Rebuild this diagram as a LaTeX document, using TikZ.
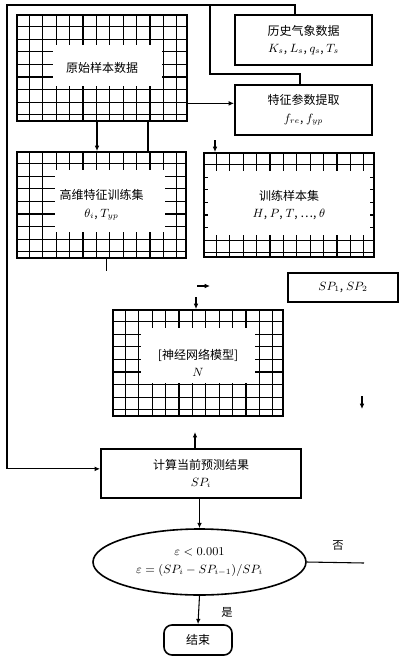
\documentclass[tikz,border=0pt]{standalone}
\usepackage{fontspec}
\newfontfamily\cjk{Noto Sans CJK SC}
\usetikzlibrary{arrows.meta,shapes.geometric}
\newcommand\mygrid[8]{%
  \begin{scope}
    \clip (#1,#2) rectangle (#3,#4);
    \foreach \i in {1,...,14} {
      \draw[gl] ({#1+13.4*\i-1},#2) -- ({#1+13.4*\i-1},#4);
      \draw[gl] (#1,{#2+12.6*\i-1}) -- (#3,{#2+12.6*\i-1});
    }
    \fill[white] (#5,#6) rectangle (#7,#8);
  \end{scope}}
\begin{document}
\begin{tikzpicture}[x=0.75pt,y=-0.75pt,
  box/.style={draw,line width=1.4pt,inner sep=0pt,align=center,font=\cjk\fontsize{9}{13}\selectfont},
  gl/.style={line width=0.9pt},
  arr/.style={line width=0.8pt,-{Latex[length=4pt,width=3.5pt]}},
  ln/.style={line width=0.8pt},
  lab/.style={font=\cjk\fontsize{8.5}{10}\selectfont}]
\useasboundingbox[fill=white] (0,0) rectangle (400,658);

% grid fills
\mygrid{17}{15}{187}{121}{53}{45}{162}{86}
\mygrid{17}{152}{186}{258}{55}{170}{165}{232}
\mygrid{204}{153}{374}{257}{208}{171}{370}{235}
\mygrid{113}{310}{283}{416}{141}{328}{255}{383}

% boxes
\node[box,minimum width=127.5pt,minimum height=79.5pt] (A) at (102,68) {原始样本数据};
\node[box,minimum width=102.75pt,minimum height=37.5pt] (TR) at (303.5,40) {历史气象数据\\$K_s$, $L_s$, $q_s$, $T_s$};
\node[box,minimum width=102.75pt,minimum height=37.5pt] (F) at (303.5,110) {特征参数提取\\$f_{re}$, $f_{yp}$};
\node[box,minimum width=126.75pt,minimum height=79.5pt] (ML) at (101.5,205) {高维特征训练集\\$\theta_i$, $T_{yp}$};
\node[box,minimum width=127.5pt,minimum height=78pt] (MR) at (289,205) {训练样本集\\$H$, $P$, $T$, \ldots, $\theta$};
\node[box,minimum width=127.5pt,minimum height=79.5pt] (C) at (198,363) {[神经网络模型]\\$N$};
\node[box,minimum width=82.5pt,minimum height=21.75pt] (SP) at (343,287.5) {$SP_1$, $SP_2$};
\node[box,minimum width=150pt,minimum height=36.75pt] (E) at (201,473.5) {计算当前预测结果\\$SP_i$};
\node[box,ellipse,line width=1.2pt,minimum width=159.75pt,minimum height=49.5pt] (D) at (199.5,562) {$\varepsilon<0.001$\\$\varepsilon=(SP_i-SP_{i-1})/SP_i$};
\node[box,rounded corners=6pt,line width=1.2pt,minimum width=51pt,minimum height=22.5pt] (End) at (198,640) {结束};

% coordinates
\coordinate (tl) at (7,5);
\coordinate (tx) at (295,0);
\coordinate (j1) at (210,5);
\coordinate (j2) at (300,74);
\coordinate (ein) at ([yshift=3.5pt]E.west);
\coordinate (fin) at ([yshift=5pt]F.west);
\coordinate (ax1) at (97,0);
\coordinate (ax2) at (148,0);
\coordinate (mrIn) at (215,140);
\coordinate (c1) at (197,286);
\coordinate (cIn) at (196,297);
\coordinate (rd) at (362,396);
\coordinate (dOut) at (364,563);

% connectors
\draw[arr] (TR.north -| tx) |- (tl) |- (ein);
\draw[ln] (j1) |- (j2) -- (F.north -| j2);
\draw[arr] (A.east |- fin) -- (fin);
\draw[arr] (A.south -| ax1) -- (ML.north -| ax1);
\draw[ln] (A.south -| ax2) -- (ML.north -| ax2);
\draw[arr] (mrIn) -- (mrIn |- MR.north);
\draw[ln] ([xshift=4pt]ML.south) -- ++(0,12);
\draw[arr] (c1) -- ++(13,0);
\draw[arr] (cIn) -- (cIn |- C.north);
\draw[arr] (rd) -- ++(0,13);
\draw[arr] ([xshift=-4.5pt]E.north) -- ++(0,-16);
\draw[arr] (E.south -| D.north) -- (D.north);
\draw[ln] (D.east) -- (dOut);
\draw[arr] (D.south) -- (End.north);

% labels
\node[lab] (no) at (338,546) {否};
\node[lab] (yes) at (227,612) {是};
\end{tikzpicture}
\end{document}
